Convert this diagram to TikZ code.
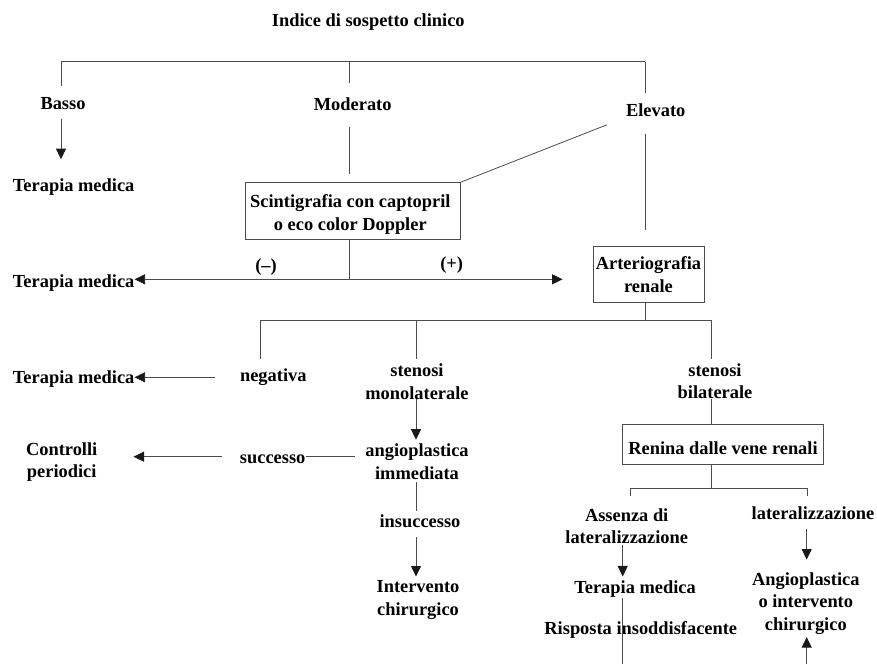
\documentclass[tikz,border=0pt]{standalone}
\usepackage{fontspec}
\setmainfont{Liberation Serif}
\usetikzlibrary{arrows.meta,calc}
\begin{document}
\begin{tikzpicture}[x=1pt,y=-1pt,
  lbl/.style={font=\bfseries\fontsize{18.4}{22.5}\selectfont, inner sep=0pt, align=center},
  ln/.style={line width=0.8pt, draw=black!70},
  arr/.style={ln, -{Triangle[length=10.5pt,width=10pt,color=black!90]}},
  boxn/.style={lbl, draw=black!70, line width=0.8pt, inner sep=0pt}
]
\useasboundingbox (0,0) rectangle (877,664);
% ---------------- nodes
\node[lbl] (title) at (368.3,21.7) {Indice di sospetto clinico};
\node[lbl] (basso) at (63,104) {Basso};
\node[lbl] (moderato) at (352.7,104) {Moderato};
\node[lbl] (elevato) at (655.7,110.7) {Elevato};
\node[lbl,anchor=west] (tm1) at (12.7,186.7) {Terapia medica};
\node[boxn,minimum width=214.3pt,minimum height=56.6pt] (scint) at (352.9,211) {};
\node[lbl] (scinttext) at (350.3,214.5) {Scintigrafia con captopril\\o eco color Doppler};
\node[lbl] (minus) at (266,266.7) {(--)};
\node[lbl] (plus) at (451.7,265) {(+)};
\node[lbl,anchor=west] (tm2) at (12.7,283.4) {Terapia medica};
\node[boxn,minimum width=111pt,minimum height=56pt] (arterio) at (648.5,274.8) {Arteriografia\\renale};
\node[lbl] (negativa) at (273.3,377.3) {negativa};
\node[lbl,anchor=west] (tm3) at (12.7,379) {Terapia medica};
\node[lbl] (stmono) at (417,381.5) {stenosi\\monolaterale};
\node[lbl] (stbil) at (715,381) {stenosi\\bilaterale};
\node[lbl] (angio) at (417,461.5) {angioplastica\\immediata};
\node[lbl] (successo) at (272.7,459.3) {successo};
\node[lbl] (controlli) at (61.7,462) {Controlli\\periodici};
\node[lbl] (insuccesso) at (420,521.2) {insuccesso};
\node[lbl] (intervento) at (418,600) {Intervento\\chirurgico};
\node[boxn,minimum width=201.4pt,minimum height=40.3pt,text height=21pt,text depth=0pt] (renina) at (723,444.2) {Renina dalle vene renali};
\node[lbl] (assenza) at (626.7,526) {Assenza di\\lateralizzazione};
\node[lbl] (tm4) at (635,589) {Terapia medica};
\node[lbl] (risposta) at (640.8,630) {Risposta insoddisfacente};
\node[lbl] (lateral) at (813,513.3) {lateralizzazione};
\node[lbl] (angio2) at (805.8,603.5) {Angioplastica\\o intervento\\chirurgico};
% ---------------- coordinates (bus corners, free ends)
\coordinate (tl) at (61,61.7);
\coordinate (tmid) at (349.3,61.7);
\coordinate (tr) at (645,61.7);
\coordinate (split) at (349.3,279.3);
\coordinate (b2) at (645,320);
\coordinate (b2l) at (260,320);
\coordinate (b2m) at (416,320);
\coordinate (b2r) at (711,320);
\coordinate (b3) at (711,488.3);
\coordinate (b3l) at (630,488.3);
\coordinate (b3r) at (807.7,488.3);
\coordinate (botl) at (622.7,664);
\coordinate (botr) at (806.7,664);
% ---------------- top bus
\draw[ln] (tl) -- (tr);
\draw[ln,shorten >=12pt] (tl) -- (tl |- basso.north);
\draw[arr,shorten <=9pt,shorten >=19pt] (basso.south -| tl) -- (tm1.north -| tl);
\draw[ln,shorten >=14.7pt] (tmid) -- (tmid |- moderato.north);
\draw[ln,shorten <=16pt,shorten >=8.7pt] (moderato.south -| tmid) -- (scint.north -| tmid);
\draw[ln,shorten >=11.5pt] (tr) -- (tr |- elevato.north);
\draw[ln,shorten <=17pt,shorten >=16.7pt] (elevato.south -| tr) -- (arterio.north -| tr);
\draw[ln,shorten >=20.4pt] (scint.north east) -- (elevato.south west);
% ---------------- scintigraphy outcomes
\draw[ln] (scint.south -| split) -- (split);
\draw[arr] (split) -- (tm2.east |- split);
\draw[arr,shorten >=30pt] (split) -- (arterio.west |- split);
% ---------------- arteriography bus
\draw[ln] (arterio.south -| b2) -- (b2);
\draw[ln] (b2l) -- (b2r);
\draw[ln,shorten >=9.6pt] (b2l) -- (b2l |- negativa.north);
\draw[ln,shorten >=4.6pt] (b2m) -- (b2m |- stmono.north);
\draw[ln,shorten >=4.1pt] (b2r) -- (b2r |- stbil.north);
% ---------------- left branches
\draw[arr,shorten <=25pt] (negativa.west) -- (negativa.west -| tm3.east);
\draw[arr,shorten >=3.9pt] (stmono.south -| b2m) -- (angio.north -| b2m);
\draw[ln,shorten >=10.6pt] ($(successo.east)+(0,-2.6)$) -- ($(successo.east -| angio.west)+(0,-2.6)$);
\draw[arr,shorten <=17.5pt,shorten >=36pt] ($(successo.west)+(0,-2.6)$) -- ($(successo.west -| controlli.east)+(0,-2.6)$);
\draw[ln,shorten <=2.6pt,shorten >=3.2pt] (angio.south -| b2m) -- (insuccesso.north -| b2m);
\draw[arr,shorten <=9.2pt,shorten >=4pt] (insuccesso.south -| b2m) -- (intervento.north -| b2m);
% ---------------- bilateral branch
\draw[ln] (stbil.south -| b2r) -- (renina.north -| b2r);
\draw[ln] (renina.south -| b3) -- (b3);
\draw[ln] (b3l) -- (b3r);
\draw[ln,shorten >=12.5pt] (b3l) -- (b3l |- assenza.north);
\draw[ln,shorten >=11pt] (b3r) -- (b3r |- lateral.north);
\draw[arr,shorten <=1.5pt,shorten >=4pt] (assenza.south -| botl) -- (tm4.north -| botl);
\draw[ln] (tm4.south -| botl) -- (botl);
\draw[arr,shorten <=9.5pt,shorten >=12.8pt] (lateral.south -| botr) -- (angio2.north -| botr);
\draw[arr,shorten >=2.5pt] (botr) -- (angio2.south -| botr);
\end{tikzpicture}
\end{document}
